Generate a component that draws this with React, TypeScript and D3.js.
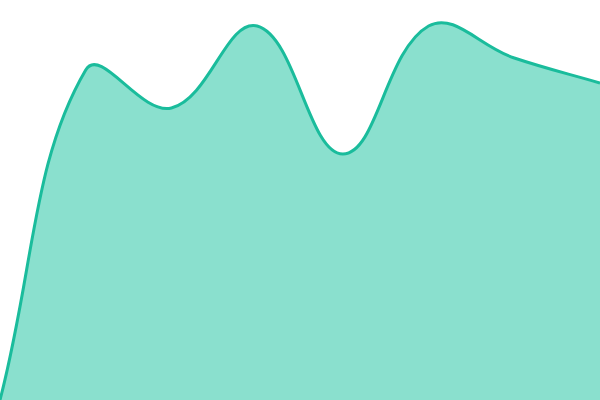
import React from "react";
import * as d3 from "d3";

const categories = [0, 1, 2, 3, 4, 5, 6, 7];
const values = [0, 82.5, 73, 93.5, 61.5, 93.5, 85.5, 79.25];

const W = 600;
const H = 400;
const TENSION = 0.4;

type P = [number, number];

// Chart.js-style spline (distance-weighted control points), drawn with d3.path
function splinePath(pts: P[], closeTo?: number): string {
  const p = d3.path();
  const n = pts.length;
  const cps: { prev: P; next: P }[] = pts.map((cur, i) => {
    const prev = pts[Math.max(0, i - 1)];
    const next = pts[Math.min(n - 1, i + 1)];
    const d01 = Math.hypot(cur[0] - prev[0], cur[1] - prev[1]);
    const d12 = Math.hypot(next[0] - cur[0], next[1] - cur[1]);
    let s01 = d01 / (d01 + d12);
    let s12 = d12 / (d01 + d12);
    s01 = isNaN(s01) ? 0 : s01;
    s12 = isNaN(s12) ? 0 : s12;
    const fa = TENSION * s01;
    const fb = TENSION * s12;
    const clampX = (v: number) => Math.max(0, Math.min(W, v));
    const clampY = (v: number) => Math.max(0, Math.min(H, v));
    return {
      prev: [clampX(cur[0] - fa * (next[0] - prev[0])), clampY(cur[1] - fa * (next[1] - prev[1]))],
      next: [clampX(cur[0] + fb * (next[0] - prev[0])), clampY(cur[1] + fb * (next[1] - prev[1]))],
    };
  });
  p.moveTo(pts[0][0], pts[0][1]);
  for (let i = 1; i < n; i++) {
    const a = cps[i - 1].next;
    const b = cps[i].prev;
    p.bezierCurveTo(a[0], a[1], b[0], b[1], pts[i][0], pts[i][1]);
  }
  if (closeTo !== undefined) {
    p.lineTo(pts[n - 1][0], closeTo);
    p.lineTo(pts[0][0], closeTo);
    p.closePath();
  }
  return p.toString();
}

export default function App() {
  const x = d3.scaleLinear().domain([0, categories.length - 1]).range([0, W]);
  const y = d3.scaleLinear().domain([0, 100]).range([H, 0]);
  const pts: P[] = categories.map((c, i) => [x(c), y(values[i])]);
  return (
    <svg
      width={W}
      height={H}
      style={{ position: "absolute", left: 0, top: 0, display: "block" }}
    >
      <path d={splinePath(pts, y(0))} fill="#8ae0ce" stroke="none" />
      <path d={splinePath(pts)} fill="none" stroke="#1abc9c" strokeWidth={3} />
    </svg>
  );
}
